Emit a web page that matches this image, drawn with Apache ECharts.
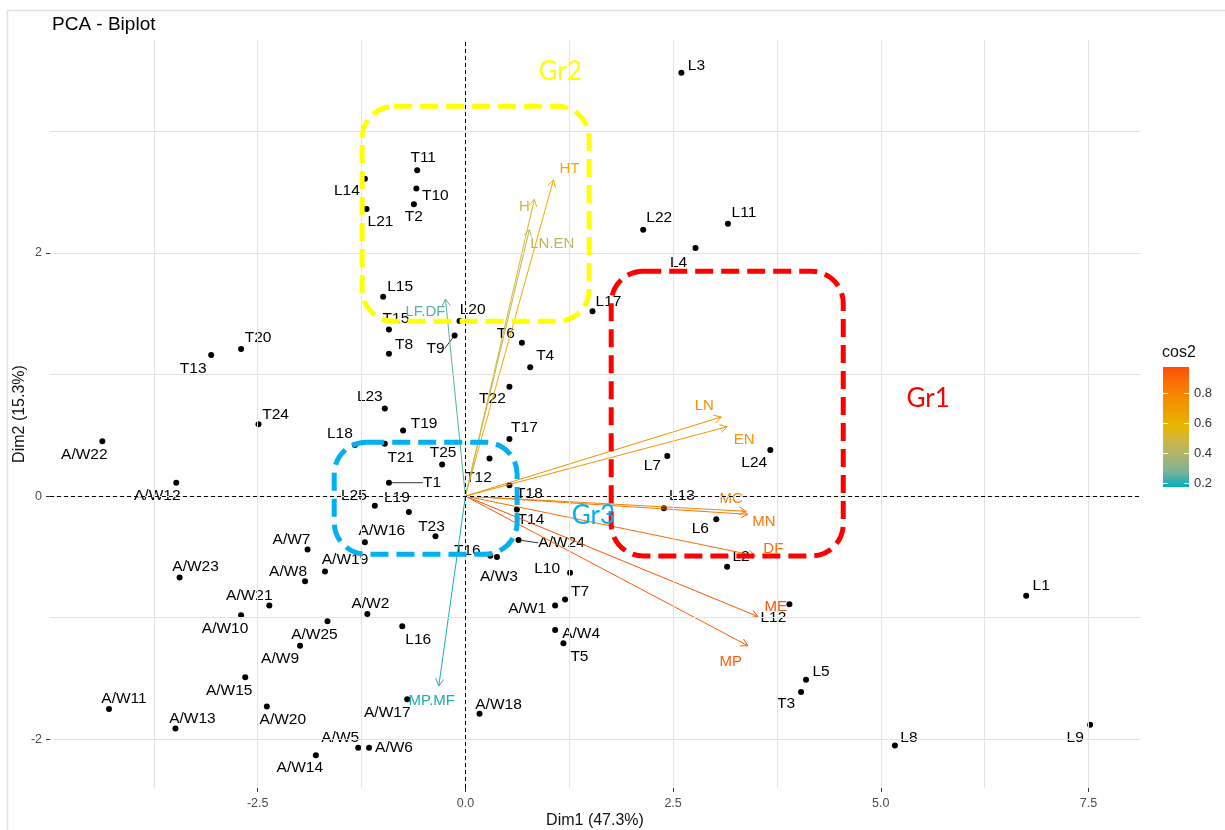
<!DOCTYPE html>
<html>
<head>
<meta charset="utf-8">
<title>PCA - Biplot</title>
<script src="https://cdn.jsdelivr.net/npm/echarts@6/dist/echarts.min.js"></script>
<style>
  html, body { margin: 0; padding: 0; background: #fff; }
  #chart { width: 1225px; height: 830px; }
</style>
</head>
<body>
<div id="chart"></div>
<script>
// individuals: coordinates on Dim1 / Dim2
const indNames = [
  'L1','L2','L3','L4','L5','L6','L7','L8','L9','L10','L11','L12','L13','L14','L15','L16','L17','L18','L19','L20','L21','L22','L23','L24','L25',
  'T1','T2','T3','T4','T5','T6','T7','T8','T9','T10','T11','T12','T13','T14','T15','T16','T17','T18','T19','T20','T21','T22','T23','T24','T25',
  'A/W1','A/W2','A/W3','A/W4','A/W5','A/W6','A/W7','A/W8','A/W9','A/W10','A/W11','A/W12','A/W13','A/W14','A/W15','A/W16','A/W17','A/W18','A/W19','A/W20','A/W21','A/W22','A/W23','A/W24','A/W25'
];
const indDim1 = [
  6.75, 3.15, 2.60, 2.77, 4.10, 3.02, 2.43, 5.17, 7.52, 1.26, 3.16, 3.90, 2.39, -1.21, -0.99, -0.76, 1.53, -1.33, -0.68, -0.07, -1.19, 2.14, -0.97, 3.67, -1.09,
  -0.92, -0.62, 4.04, 0.78, 1.18, 0.68, 1.20, -0.92, -0.13, -0.59, -0.58, 0.29, -3.06, 0.62, -0.92, 0.30, 0.53, 0.53, -0.75, -2.70, -0.97, 0.53, -0.36, -2.49, -0.28,
  1.08, -1.18, 0.38, 1.08, -1.29, -1.16, -1.90, -1.93, -1.99, -2.70, -4.29, -3.48, -3.49, -1.80, -2.65, -1.21, -0.70, 0.17, -1.69, -2.39, -2.36, -4.37, -3.44, 0.64, -1.66
];
const indDim2 = [
  -0.82, -0.58, 3.48, 2.04, -1.51, -0.19, 0.33, -2.05, -1.88, -0.63, 2.24, -0.89, -0.10, 2.61, 1.64, -1.07, 1.52, 0.42, -0.13, 1.44, 2.36, 2.19, 0.72, 0.38, -0.08,
  0.11, 2.40, -1.61, 1.06, -1.21, 1.26, -0.85, 1.17, 1.32, 2.53, 2.68, 0.31, 1.16, -0.11, 1.37, -0.49, 0.47, 0.09, 0.54, 1.21, 0.43, 0.90, -0.33, 0.59, 0.26,
  -0.90, -0.97, -0.50, -1.10, -2.07, -2.07, -0.44, -0.70, -1.23, -0.98, -1.75, 0.11, -1.91, -2.13, -1.49, -0.38, -1.67, -1.79, -0.62, -1.73, -0.90, 0.45, -0.67, -0.36, -1.03
];

// variables: arrow tips and cos2
const varNames = ['HT', 'H', 'LN.EN', 'LF.DF', 'MP.MF', 'LN', 'EN', 'MC', 'MN', 'DF', 'ME', 'MP'];
const varDim1 = [1.06, 0.83, 0.77, -0.24, -0.32, 3.08, 3.15, 3.38, 3.40, 3.49, 3.52, 3.40];
const varDim2 = [2.60, 2.44, 2.19, 1.62, -1.56, 0.65, 0.57, -0.125, -0.15, -0.49, -0.99, -1.23];
const varCos2 = [0.62, 0.52, 0.42, 0.24, 0.19, 0.74, 0.72, 0.80, 0.84, 0.88, 0.95, 0.92];

// groups drawn over the plot
const groupNames = ['Gr1', 'Gr2', 'Gr3'];
const groupDim1 = [[1.755, 4.548], [-1.243, 1.490], [-1.579, 0.623]];
const groupDim2 = [[-0.492, 1.849], [1.437, 3.205], [-0.478, 0.443]];
const groupTextAt = [[5.57, 0.80], [1.14, 3.49], [1.54, -0.16]];

// ticks
const xTicks = [-2.5, 0, 2.5, 5, 7.5];
const yTicks = [-2, 0, 2];
const xGrid = [-3.75, -2.5, -1.25, 0, 1.25, 2.5, 3.75, 5, 6.25, 7.5];
const yGrid = [-2, -1, 0, 1, 2, 3];
const cos2Ticks = [0.2, 0.4, 0.6, 0.8];
const cos2Min = 0.17, cos2Max = 0.97;

// label placement (pixel offset of label centre from its point)
const indLabelOffset = {
  'L1': [15, -10], 'L2': [14, -10], 'L3': [15, -7], 'L4': [-17, 15], 'L5': [15, -8], 'L6': [-16, 10], 'L7': [-15, 10],
  'L8': [14, -8], 'L9': [-15, 13], 'L10': [-23, -4], 'L11': [16, -11], 'L12': [-16, 13], 'L13': [18, -13], 'L14': [-18, 12],
  'L15': [17, -10], 'L16': [16, 13], 'L17': [16, -10], 'L18': [-15, -11], 'L19': [-12, -14], 'L20': [13, -11], 'L21': [14, 13],
  'L22': [16, -12], 'L23': [-15, -12], 'L24': [-16, 13], 'L25': [-21, -10],
  'T1': [43, 0], 'T2': [0, 13], 'T3': [-15, 12], 'T4': [15, -11], 'T5': [16, 13], 'T6': [-16, -9], 'T7': [15, -8],
  'T8': [15, -9], 'T9': [-19, 13], 'T10': [19, 7], 'T11': [6, -12], 'T12': [-11, 19], 'T13': [-18, 14], 'T14': [14, 10],
  'T15': [7, -11], 'T16': [-23, -5], 'T17': [15, -11], 'T18': [20, 9], 'T19': [21, -7], 'T20': [17, -11], 'T21': [16, 14],
  'T22': [-17, 12], 'T23': [-4, -10], 'T24': [17, -10], 'T25': [1, -12],
  'A/W1': [-28, 3], 'A/W2': [3, -10], 'A/W3': [2, 20], 'A/W4': [26, 4], 'A/W5': [-18, -10], 'A/W6': [25, 0], 'A/W7': [-16, -10],
  'A/W8': [-17, -10], 'A/W9': [-20, 13], 'A/W10': [-16, 13], 'A/W11': [15, -10], 'A/W12': [-19, 13], 'A/W13': [17, -10],
  'A/W14': [-16, 13], 'A/W15': [-16, 13], 'A/W16': [17, -12], 'A/W17': [-20, 14], 'A/W18': [19, -9], 'A/W19': [20, -12],
  'A/W20': [16, 13], 'A/W21': [-20, -10], 'A/W22': [-18, 13], 'A/W23': [16, -11], 'A/W24': [43, 3], 'A/W25': [-13, 13]
};
const connectorLabels = ['T1', 'T9', 'A/W24'];
const varLabelOffset = {
  'HT': [16, -11], 'H': [-10, 8], 'LN.EN': [23, 14], 'LF.DF': [-20, 13], 'MP.MF': [-7, 15], 'LN': [-17, -11],
  'EN': [17, 13], 'MC': [-15, -12], 'MN': [16, 8], 'DF': [18, -7], 'ME': [18, -10], 'MP': [-17, 16]
};
const groupColors = ['#FF0000', '#FFFF00', '#00B0F0'];
// teal -> yellow -> orange, sampled in Lab like ggplot's gradientn
const cos2Colors = ['#00AFBB', '#7BB198', '#A9B474', '#CAB64C', '#E7B800', '#EEA100', '#F48A01', '#F96F04', '#FC4E07'];

const FONT = '"Liberation Sans", Arial, sans-serif';
const grid = { left: 50, top: 40, width: 1090, height: 748, outerBoundsMode: 'none', containLabel: false };

const chart = echarts.init(document.getElementById('chart'), null, { renderer: 'canvas' });

const legendTop = 367, legendH = 120;
const legendY = v => legendTop + legendH - (v - cos2Min) / (cos2Max - cos2Min) * legendH;
const legendGraphics = [
  { type: 'rect', silent: true, z: -10, shape: { x: 7.5, y: 10.5, width: 1400, height: 1000 },
    style: { fill: null, stroke: '#e2e2e2', lineWidth: 1.5 } },
  { type: 'text', silent: true, style: { x: 1162, y: 353, text: 'cos2', font: '16px ' + FONT, fill: '#111', verticalAlign: 'middle' } },
  { type: 'rect', silent: true, shape: { x: 1163, y: legendTop, width: 26, height: legendH },
    style: { fill: new echarts.graphic.LinearGradient(0, 1, 0, 0,
      cos2Colors.map((c, i) => ({ offset: i / (cos2Colors.length - 1), color: c }))) } }
];
cos2Ticks.forEach(v => {
  const y = Math.round(legendY(v)) + 0.5;
  legendGraphics.push(
    { type: 'line', silent: true, shape: { x1: 1163, y1: y, x2: 1168, y2: y }, style: { stroke: '#fff', lineWidth: 1 } },
    { type: 'line', silent: true, shape: { x1: 1184, y1: y, x2: 1189, y2: y }, style: { stroke: '#fff', lineWidth: 1 } },
    { type: 'text', silent: true, style: { x: 1194, y: y, text: v.toFixed(1), font: '13px ' + FONT, fill: '#333', verticalAlign: 'middle' } }
  );
});

const hiddenLine = { show: true, onZero: false, lineStyle: { color: 'rgba(0,0,0,0)' } };

const option = {
  animation: false,
  backgroundColor: '#fff',
  title: {
    text: 'PCA - Biplot', left: 52, top: 15, padding: 0,
    textStyle: { fontSize: 19, fontWeight: 'normal', color: '#000', fontFamily: FONT }
  },
  grid: grid,
  xAxis: {
    type: 'value', min: -5, max: 8.12,
    axisLine: hiddenLine, splitLine: { show: false },
    axisTick: { show: true, customValues: xTicks, length: 4, lineStyle: { color: '#333' } },
    axisLabel: { customValues: xTicks, formatter: v => v.toFixed(1), color: '#4d4d4d', fontSize: 12.5, fontFamily: FONT, margin: 9 },
    name: 'Dim1 (47.3%)', nameLocation: 'middle', nameGap: 25, nameMoveOverlap: false,
    nameTextStyle: { fontSize: 16, color: '#111', fontFamily: FONT }
  },
  yAxis: {
    type: 'value', min: -2.4, max: 3.75,
    axisLine: hiddenLine, splitLine: { show: false },
    axisTick: { show: true, customValues: yTicks, length: 4, lineStyle: { color: '#333' } },
    axisLabel: { customValues: yTicks, formatter: v => String(v), color: '#4d4d4d', fontSize: 12.5, fontFamily: FONT, margin: 8 },
    name: 'Dim2 (15.3%)', nameLocation: 'middle', nameGap: 22, nameMoveOverlap: false,
    nameTextStyle: { fontSize: 16, color: '#111', fontFamily: FONT }
  },
  visualMap: {
    type: 'continuous', show: false, seriesIndex: 2, dimension: 2,
    min: cos2Min, max: cos2Max,
    inRange: { color: cos2Colors }
  },
  graphic: legendGraphics,
  series: [
    {
      // grid lines and dashed origin lines
      type: 'scatter', data: [], z: 1, silent: true,
      markLine: {
        silent: true, symbol: 'none', label: { show: false }, animation: false,
        lineStyle: { color: '#e3e3e3', width: 1, type: 'solid' },
        data: xGrid.map(v => ({ xAxis: v })).concat(yGrid.map(v => ({ yAxis: v })))
          .concat([
            { xAxis: 0, lineStyle: { color: '#000', type: [4, 3], width: 1 } },
            { yAxis: 0, lineStyle: { color: '#000', type: [4, 3], width: 1 } }
          ])
      }
    },
    {
      type: 'scatter', z: 3,
      symbolSize: 6,
      itemStyle: { color: '#000', opacity: 1 },
      data: indNames.map((n, i) => {
        const d = { name: n, value: [indDim1[i], indDim2[i]] };
        if (connectorLabels.indexOf(n) >= 0) d.labelLine = { show: true };
        return d;
      }),
      label: {
        show: true, position: 'inside', formatter: p => p.name,
        color: '#000', fontSize: 15.5, fontFamily: FONT, textBorderWidth: 0
      },
      labelLine: { show: false, lineStyle: { color: '#333', width: 1 } },
      labelLayout: p => {
        const o = indLabelOffset[indNames[p.dataIndex]] || [14, -10];
        return { dx: o[0], dy: o[1] };
      }
    },
    {
      type: 'custom', z: 4,
      data: varNames.map((n, i) => [varDim1[i], varDim2[i], varCos2[i]]),
      renderItem: (params, api) => {
        const o = api.coord([0, 0]);
        const e = api.coord([api.value(0), api.value(1)]);
        const color = api.visual('color');
        const ang = Math.atan2(e[1] - o[1], e[0] - o[0]);
        const L = 8, a = Math.PI / 6;
        const p1 = [e[0] - L * Math.cos(ang - a), e[1] - L * Math.sin(ang - a)];
        const p2 = [e[0] - L * Math.cos(ang + a), e[1] - L * Math.sin(ang + a)];
        const name = varNames[params.dataIndex];
        const off = varLabelOffset[name];
        return {
          type: 'group',
          children: [
            { type: 'line', shape: { x1: o[0], y1: o[1], x2: e[0], y2: e[1] }, style: { stroke: color, lineWidth: 1 } },
            { type: 'polyline', shape: { points: [p1, e, p2] }, style: { stroke: color, fill: null, lineWidth: 1 } },
            { type: 'text', x: e[0] + off[0], y: e[1] + off[1],
              style: { text: name, fill: color, font: '15px ' + FONT, align: 'center', verticalAlign: 'middle' } }
          ]
        };
      }
    },
    {
      type: 'custom', z: 10, silent: true,
      data: groupNames.map((n, i) => [groupDim1[i][0], groupDim2[i][0], groupDim1[i][1], groupDim2[i][1], groupTextAt[i][0], groupTextAt[i][1]]),
      renderItem: (params, api) => {
        const tl = api.coord([api.value(0), api.value(3)]);
        const br = api.coord([api.value(2), api.value(1)]);
        const tp = api.coord([api.value(4), api.value(5)]);
        const color = groupColors[params.dataIndex];
        return {
          type: 'group',
          children: [
            { type: 'rect', shape: { x: tl[0], y: tl[1], width: br[0] - tl[0], height: br[1] - tl[1], r: 32 },
              style: { fill: null, stroke: color, lineWidth: 5, lineDash: [18, 8] } },
            { type: 'text', x: tp[0], y: tp[1],
              style: { text: groupNames[params.dataIndex], fill: color, font: '26px Lato, "Open Sans", sans-serif', align: 'center', verticalAlign: 'middle' } }
          ]
        };
      }
    }
  ]
};

chart.setOption(option);
</script>
</body>
</html>
